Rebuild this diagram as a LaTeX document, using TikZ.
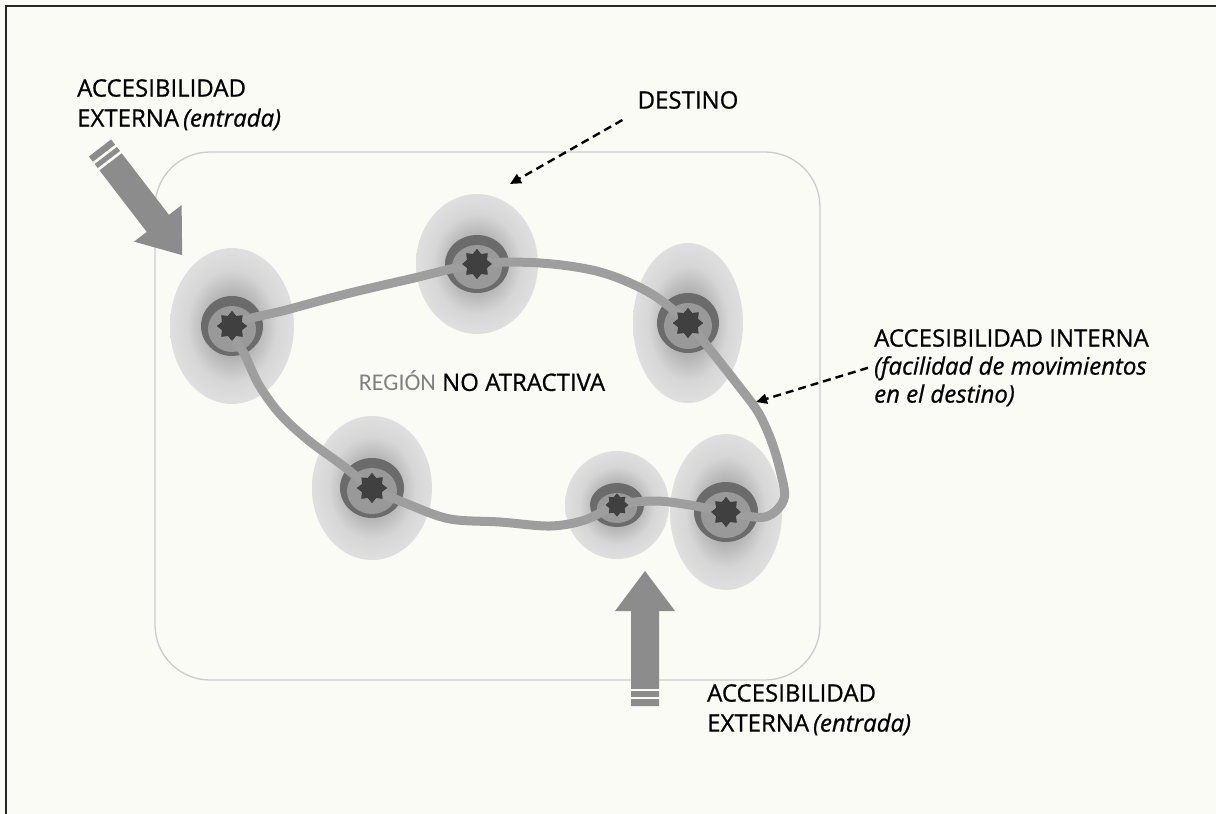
\documentclass[tikz,border=0pt]{standalone}
\usepackage{fontspec}
\setmainfont[FakeBold=0.7,AutoFakeBold=0.7]{Open Sans}
\newfontfamily\printfont{Carlito}
\usetikzlibrary{arrows.meta,shapes.geometric}
\definecolor{paper}{RGB}{250,251,245}
\definecolor{roadgray}{RGB}{158,158,158}
\definecolor{arrowgray}{RGB}{140,140,140}
\pgfdeclareradialshading{halo}{\pgfpoint{0bp}{0bp}}{color(0bp)=(gray!80); color(10bp)=(gray!60); color(18bp)=(gray!32); color(30bp)=(gray!20); color(42bp)=(gray!11); color(50bp)=(paper)}
\tikzset{
  halo/.style={shading=halo},
  hub/.style={star,star points=8,star point ratio=1.4,fill=black!75,inner sep=0pt,minimum size=#1},
  hub/.default=30pt,
  road/.style={roadgray,line width=9pt,line cap=round,line join=round},
  lbl/.style={font=\fontsize{24}{30}\selectfont,align=left,inner sep=0pt},
  dasharrow/.style={black,line width=2.4pt,dash pattern=on 8pt off 5pt,-{Triangle[length=11pt,width=10pt]}},
  entry/.pic={
    \fill[arrowgray] (0,-14) -- (95,-14) -- (95,-30) -- (135,0) -- (95,30) -- (95,14) -- (0,14) -- cycle;
    \draw[paper,line width=2.6pt] (8,-16) -- (8,16);
    \draw[paper,line width=2.6pt] (16,-16) -- (16,16);
  }
}
\begin{document}
\begin{tikzpicture}[x=1pt,y=-1pt]
\useasboundingbox (0,0) rectangle (1216,814);
\fill[paper] (0,0) rectangle (1216,814);
% frame (cut off right and bottom)
\draw[black!85,line width=2pt] (6,814) -- (6,6) -- (1216,6);
% --- region ---
\draw[gray!40,line width=1.3pt,rounded corners=55pt] (155,152) rectangle (820,680);
% --- halos ---
\shade[halo] (232,326) ellipse (62 and 78);
\shade[halo] (477,264) ellipse (61 and 70);
\shade[halo] (688,323) ellipse (55 and 80);
\shade[halo] (372,488) ellipse (60 and 72);
\shade[halo] (617,505) ellipse (52 and 54);
\shade[halo] (726,512) ellipse (56 and 78);
% --- rings ---
\foreach \cx/\cy/\rx/\ry in {232/326/31/30, 477/264/32/29, 688/323/31/30, 372/488/32/30, 617/505/27/22, 726/512/32/30}{
  \fill[black!58] (\cx,\cy) ellipse (\rx pt and \ry pt);
  \fill[black!40] (\cx,\cy+3) ellipse (\rx pt-7pt and \ry pt-7pt);
}
% --- centres ---
\node[hub] (b1) at (232,326) {};
\node[hub] (b2) at (477,264) {};
\node[hub] (b3) at (688,323) {};
\node[hub] (b4) at (372,488) {};
\node[hub=23pt] (b5) at (617,505) {};
\node[hub] (b6) at (726,512) {};
% --- internal road ---
\draw[road] plot[smooth cycle,tension=0.55] coordinates {
  (b1.center) (290,309) (350,293) (410,279) (b2.center) (540,263) (600,272) (650,293)
  (b3.center) (712,352) (738,385) (758,412) (771,440) (780,470) (784,499) (765,517)
  (b6.center) (690,505) (655,501) (b5.center) (585,520) (550,526) (500,522) (450,519)
  (410,505) (b4.center) (342,465) (308,440) (280,414) (259,385) (245,355)};
\foreach \b/\s in {b1/30pt,b2/30pt,b3/30pt,b4/30pt,b5/23pt,b6/30pt}
  \node[hub=\s] at (\b) {};
% --- entry arrows ---
\pic[rotate=-52.5] at (100,148) {entry};
\pic[rotate=90] at (645,706) {entry};
% --- labels ---
\node[lbl,anchor=north west] (extA) at (77,79) {ACCESIBILIDAD\\EXTERNA\,{\itshape(entrada)}};
\node[lbl,anchor=north west] (extB) at (707,684) {ACCESIBILIDAD\\EXTERNA\,{\itshape(entrada)}};
\node[lbl] (dest) at (688,100) {DESTINO};
\node[lbl,anchor=north west,font=\fontsize{24}{28}\selectfont] (intern) at (874,329) {ACCESIBILIDAD INTERNA\\{\itshape(facilidad de movimientos}\\{\itshape en el destino)}};
\node[lbl] (region) at (482,381) {{\printfont\color{gray}REGIÓN} NO ATRACTIVA};
% --- dashed pointers ---
\coordinate (destTip) at (510,184);
\coordinate (roadTip) at (756,402);
\draw[dasharrow] (dest.west) ++(-15,20) -- (destTip);
\draw[dasharrow] (intern.west) ++(-6,0) -- (roadTip);
\end{tikzpicture}
\end{document}
